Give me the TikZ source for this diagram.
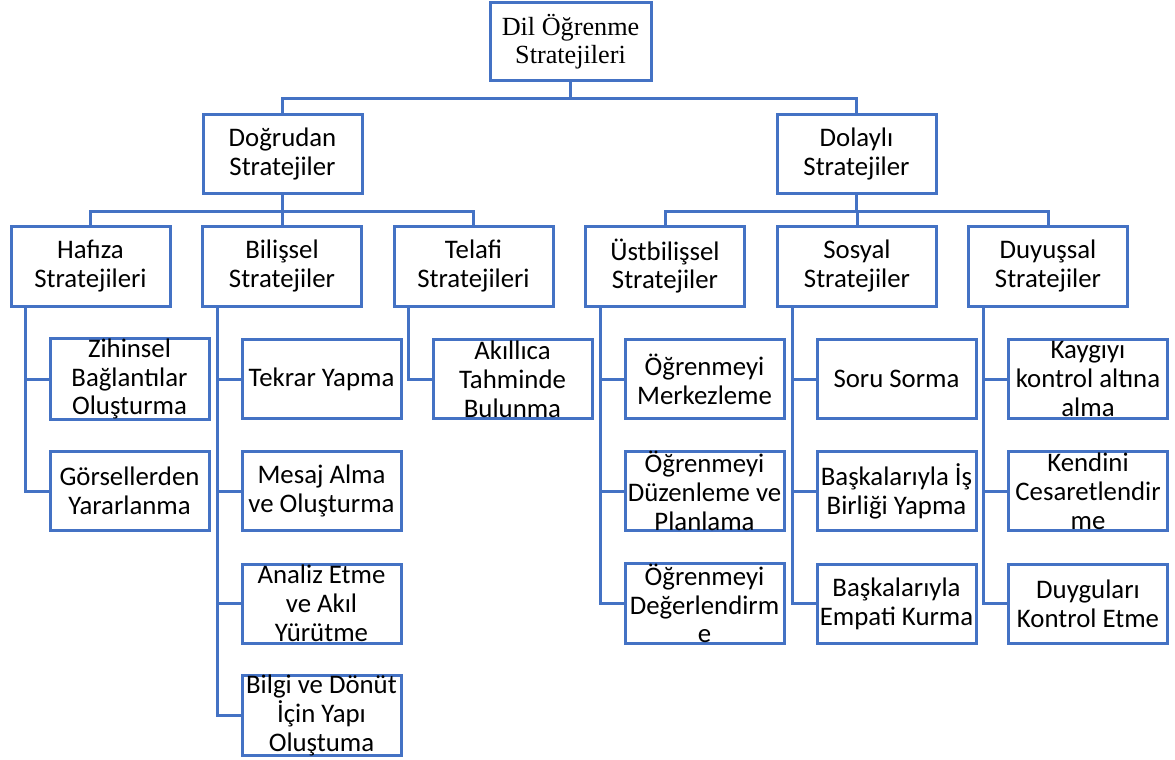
\documentclass[tikz,border=0pt]{standalone}
\usepackage{fontspec}
\setmainfont{Carlito}
\newfontfamily\rootfont{Liberation Serif}
\definecolor{lineblue}{HTML}{4472C4}
\begin{document}
\begin{tikzpicture}[x=1pt,y=-1pt,
  box/.style={draw=lineblue, line width=3pt, fill=white, rectangle, inner sep=0pt,
    minimum width=159pt, minimum height=79pt, align=center,
    font=\fontsize{26.8}{28.8}\selectfont},
  rootbox/.style={box, minimum width=161pt, minimum height=77pt,
    font=\rootfont\fontsize{26.2}{28}\selectfont},
  conn/.style={draw=lineblue, line width=3pt}]
\useasboundingbox (0,0) rectangle (1175,760);
% level 1
\node[rootbox] (root) at (570.5,41.5) {Dil Öğrenme\\Stratejileri};
% level 2
\node[box] (dog) at (282.5,154) {Doğrudan\\Stratejiler};
\node[box] (dol) at (856.5,154) {Dolaylı\\Stratejiler};
% level 3
\node[box, minimum height=80pt] (haf) at (90.5,266) {Hafıza\\Stratejileri};
\node[box, minimum height=80pt] (bil) at (282,266) {Bilişsel\\Stratejiler};
\node[box, minimum height=80pt] (tel) at (473.5,266) {Telafi\\Stratejileri};
\node[box, minimum height=80pt] (ust) at (665,266) {Üstbilişsel\\Stratejiler};
\node[box, minimum height=80pt] (sos) at (857,266) {Sosyal\\Stratejiler};
\node[box, minimum height=80pt] (duy) at (1048,266) {Duyuşsal\\Stratejiler};
% level 4
\node[box] (zih) at (129.5,379) {Zihinsel\\Bağlantılar\\Oluşturma};
\node[box] (gor) at (129.5,491) {Görsellerden\\Yararlanma};
\node[box] (tek) at (321.5,379) {Tekrar Yapma};
\node[box] (mes) at (321.5,491) {Mesaj Alma\\ve Oluşturma};
\node[box] (ana) at (321.5,603.5) {Analiz Etme\\ve Akıl\\Yürütme};
\node[box] (bgi) at (321.5,715.5) {Bilgi ve Dönüt\\İçin Yapı\\Oluştuma};
\node[box] (akl) at (512.5,379) {Akıllıca\\Tahminde\\Bulunma};
\node[box] (omr) at (704.5,379) {Öğrenmeyi\\Merkezleme};
\node[box] (odu) at (704.5,491) {Öğrenmeyi\\Düzenleme ve\\Planlama};
\node[box] (ode) at (704.5,603.5) {Öğrenmeyi\\Değerlendirm\\e};
\node[box] (sor) at (896.5,379) {Soru Sorma};
\node[box] (bis) at (896.5,491) {Başkalarıyla İş\\Birliği Yapma};
\node[box] (emp) at (896.5,603.5) {Başkalarıyla\\Empati Kurma};
\node[box] (kay) at (1088,379) {Kaygıyı\\kontrol altına\\alma};
\node[box] (ken) at (1088,491) {Kendini\\Cesaretlendir\\me};
\node[box] (dkn) at (1088,603.5) {Duyguları\\Kontrol Etme};
% connectors
\draw[conn] (root.south) -- ++(0,17) -| (dog.north);
\draw[conn] (root.south) -- ++(0,17) -| (dol.north);
\foreach \c in {haf,bil,tel} \draw[conn] (dog.south) -- ++(0,16) -| (\c.north);
\foreach \c in {ust,sos,duy} \draw[conn] (dol.south) -- ++(0,16) -| (\c.north);
\foreach \p/\c in {haf/zih,haf/gor,bil/tek,bil/mes,bil/ana,bil/bgi,tel/akl,ust/omr,ust/odu,ust/ode,sos/sor,sos/bis,sos/emp,duy/kay,duy/ken,duy/dkn}
  \draw[conn] ([xshift=16pt]\p.south west) |- (\c.west);
\end{tikzpicture}
\end{document}
